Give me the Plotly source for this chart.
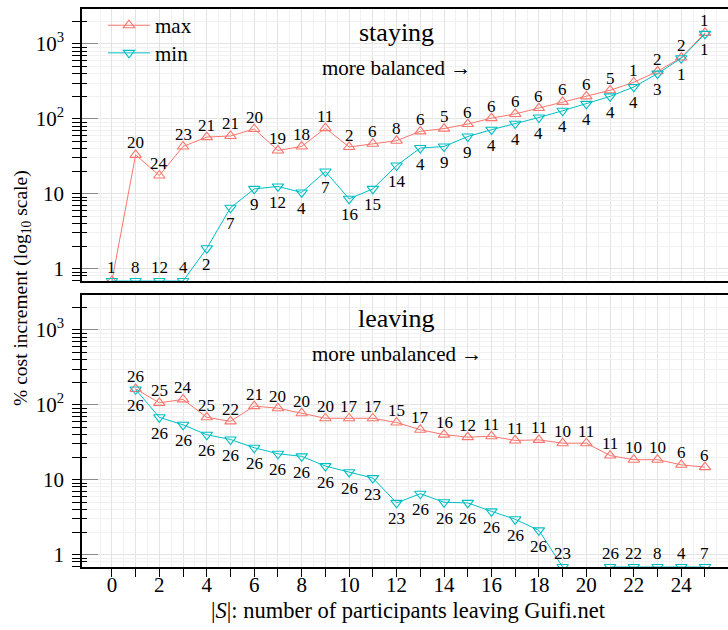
import numpy as np
import plotly.graph_objects as go

# ---------------- data ----------------
x_top = list(range(0, 26))
top_max = [0, 33, 17.5, 42.7, 57, 59, 73, 37.8, 42.7, 75, 42, 46.5, 51, 68, 74, 85,
           102, 116, 139, 168, 199, 240, 307, 430, 656, 1403]
top_max_n = [1, 20, 24, 23, 21, 21, 20, 19, 18, 11, 2, 6, 8, 6, 5, 6, 6, 6, 6, 6, 6, 5, 1, 2, 2, 1]
top_min = [0, 0, 0, 0, 1.87, 6.5, 11.6, 12.5, 10.4, 19.8, 8.55, 11.6, 23.8, 40.7, 42.7, 58,
           71.5, 86, 104, 128, 158, 199, 266, 401, 642, 1360]
top_min_n = [1, 8, 12, 4, 2, 7, 9, 12, 4, 7, 16, 15, 14, 4, 9, 9, 4, 4, 4, 4, 4, 4, 4, 3, 1, 1]

x_bot = list(range(1, 26))
bot_max = [163, 106, 118, 68, 60, 96, 90, 77, 66, 66, 66, 58, 46.4, 40, 37, 38, 33.4, 34,
           30.7, 30.7, 21, 18.5, 18.5, 15.8, 14.7]
bot_max_n = [26, 25, 24, 25, 22, 21, 20, 20, 20, 17, 17, 15, 17, 16, 12, 11, 11, 11, 10, 11,
             11, 10, 10, 6, 6]
bot_min = [160, 68, 54, 39.8, 34.4, 26.7, 22.2, 20.5, 15.2, 12.6, 10.5, 4.9, 6.5, 5.0, 4.9,
           3.78, 2.96, 2.11, 0, None, 0, 0, 0, 0, 0]
bot_min_n = [26, 26, 26, 26, 26, 26, 26, 26, 26, 26, 23, 23, 26, 26, 26, 26, 26, 26, 23, None,
             26, 22, 8, 4, 7]

panel_titles = ["staying", "leaving"]
panel_subtitles = ["more balanced \u2192", "more unbalanced \u2192"]
y_tickvals = [1, 10, 100, 1000]
y_ticktext = ["1", "10", "10<sup>2</sup>", "10<sup>3</sup>"]
x_label_ticks = list(range(0, 27, 2))
x_odd_ticks = list(range(1, 27, 2))
x_half_grid = [v + 0.5 for v in range(-2, 27)]

# ---------------- style ----------------
RED = "#F8766D"
CYAN = "#00BFC4"
FONT = "Liberation Serif"
YR = [-0.165, 3.465]
FLOOR = 10 ** YR[0]
XR = [-1.26, 25.97]
MAJ_GRID = "#E3E3E3"
MIN_GRID = "#F1F1F1"
minor_vals = [m * 10 ** d for d in range(-1, 4) for m in range(2, 10)]


def floor(vals):
    return [None if v is None else (FLOOR if v <= 0 else v) for v in vals]


def label_y(v):
    # log position for the annotation (floor points nudged inside the range)
    return np.log10(v) if v > 0 else YR[0] + 0.003


fig = go.Figure()

series = [
    ("x", "y", x_top, top_max, top_max_n, top_min, top_min_n, True),
    ("x2", "y2", x_bot, bot_max, bot_max_n, bot_min, bot_min_n, False),
]

annotations = []
for xa, ya, xs, mx, mxn, mn, mnn, leg in series:
    fig.add_trace(go.Scatter(
        x=xs, y=floor(mx), xaxis=xa, yaxis=ya, name="max", mode="lines+markers",
        line=dict(color=RED, width=1),
        marker=dict(symbol="triangle-up-open", size=10, color=RED, line=dict(width=1.1)),
        showlegend=leg, legend="legend", cliponaxis=True, connectgaps=False))
    fig.add_trace(go.Scatter(
        x=xs, y=floor(mn), xaxis=xa, yaxis=ya, name="min", mode="lines+markers",
        line=dict(color=CYAN, width=1),
        marker=dict(symbol="triangle-down-open", size=10, color=CYAN, line=dict(width=1.1)),
        showlegend=leg, legend="legend2", cliponaxis=True, connectgaps=False))
    for xi, v, n, v2 in zip(xs, mx, mxn, mn):
        if v is None or n is None:
            continue
        if v <= 0 and v2 is not None and v2 <= 0:
            continue  # shared label drawn with the min series
        annotations.append(dict(x=xi, y=label_y(v), xref=xa, yref=ya,
                                text=str(n), showarrow=False, yshift=12 if v > 0 else 13,
                                font=dict(family=FONT, size=17, color="black")))
    for xi, v, n in zip(xs, mn, mnn):
        if v is None or n is None:
            continue
        annotations.append(dict(x=xi, y=label_y(v), xref=xa, yref=ya,
                                text=str(n), showarrow=False, yshift=-16 if v > 0 else 13,
                                font=dict(family=FONT, size=17, color="black")))

# dummy traces so the overlay axes (inner log ticks, half-unit grid) are drawn
for xa, ya in [("x", "y3"), ("x2", "y4"), ("x3", "y"), ("x4", "y2")]:
    fig.add_trace(go.Scatter(x=[None], y=[None], xaxis=xa, yaxis=ya,
                             showlegend=False, hoverinfo="skip"))

for i, (t, s) in enumerate(zip(panel_titles, panel_subtitles)):
    xr = "x" if i == 0 else "x2"
    yr = "y domain" if i == 0 else "y2 domain"
    annotations.append(dict(x=12, y=0.912, xref=xr, yref=yr, text=t, showarrow=False,
                            xanchor="center", yanchor="middle",
                            font=dict(family=FONT, size=26, color="black")))
    annotations.append(dict(x=12, y=0.783, xref=xr, yref=yr, text=s, showarrow=False,
                            xanchor="center", yanchor="middle",
                            font=dict(family=FONT, size=21, color="black")))

annotations.append(dict(x=-0.0929, y=0.5, xref="paper", yref="paper", textangle=-90,
                        xanchor="center", yanchor="middle",
                        text="% cost increment (log<sub>10</sub> scale)", showarrow=False,
                        font=dict(family=FONT, size=19.5, color="black")))
annotations.append(dict(x=12.5, y=-0.0775, xref="x2", yref="paper",
                        xanchor="center", yanchor="middle",
                        text="|<i>S</i>|: number of participants leaving Guifi.net",
                        showarrow=False, font=dict(family=FONT, size=22.5, color="black")))


def xaxis(show_labels, anchor):
    return dict(
        anchor=anchor, domain=[0, 1], range=XR, showline=True, mirror=True,
        linecolor="black", linewidth=1.5,
        tickmode="array", tickvals=x_label_ticks,
        ticks="outside" if show_labels else "", ticklen=8, tickcolor="black", tickwidth=1,
        showticklabels=show_labels, tickfont=dict(family=FONT, size=21, color="black"),
        ticklabelstandoff=-10,
        showgrid=True, gridcolor=MAJ_GRID, gridwidth=1, zeroline=False,
        minor=dict(tickmode="array", tickvals=x_odd_ticks,
                   ticks="outside" if show_labels else "", ticklen=8, tickcolor="black",
                   tickwidth=1, showgrid=True, gridcolor=MAJ_GRID, gridwidth=1),
    )


def xover(over, anchor):
    return dict(
        overlaying=over, anchor=anchor, range=XR, showline=False, zeroline=False,
        showticklabels=False, ticks="", tickmode="array", tickvals=x_half_grid,
        showgrid=True, gridcolor=MIN_GRID, gridwidth=1,
    )


def yaxis(domain, anchor):
    return dict(
        anchor=anchor, domain=domain, type="log", range=YR, showline=True, mirror=False,
        linecolor="black", linewidth=1.5,
        tickmode="array", tickvals=y_tickvals, ticktext=y_ticktext,
        ticks="outside", ticklen=8, tickcolor="black", tickwidth=1,
        tickfont=dict(family=FONT, size=21, color="black"), ticklabelstandoff=4,
        showgrid=True, gridcolor=MAJ_GRID, gridwidth=1, zeroline=False,
        minor=dict(tickmode="array", tickvals=minor_vals, ticks="outside", ticklen=8,
                   tickcolor="black", tickwidth=1, showgrid=True, gridcolor=MIN_GRID, gridwidth=1),
    )


def yover(over, anchor):
    return dict(
        overlaying=over, anchor=anchor, side="left", type="log", range=YR,
        showline=False, showgrid=False, zeroline=False, showticklabels=False,
        tickmode="array", tickvals=y_tickvals, ticks="inside", ticklen=16,
        tickcolor="#8a8a8a", tickwidth=1,
        minor=dict(tickmode="array", tickvals=minor_vals, ticks="inside", ticklen=5,
                   tickcolor="black", tickwidth=1, showgrid=False),
    )


TOP_DOM = [0.5125, 1.0]
BOT_DOM = [0.0, 0.4875]

legend_common = dict(x=0.0325, xanchor="left", yanchor="top", bgcolor="rgba(0,0,0,0)",
                     itemwidth=42, font=dict(family=FONT, size=21, color="black"))

fig.update_layout(
    width=728, height=630,
    margin=dict(l=82, r=0, t=9, b=63),
    paper_bgcolor="white", plot_bgcolor="white",
    font=dict(family=FONT, color="black"),
    xaxis=xaxis(False, "y"),
    xaxis2=xaxis(True, "y2"),
    xaxis3=xover("x", "y"),
    xaxis4=xover("x2", "y2"),
    yaxis=yaxis(TOP_DOM, "x"),
    yaxis2=yaxis(BOT_DOM, "x2"),
    yaxis3=yover("y", "x"),
    yaxis4=yover("y2", "x2"),
    showlegend=True,
    legend=dict(y=1.007, **legend_common),
    legend2=dict(y=0.9575, **legend_common),
    annotations=annotations,
)

fig.write_html("out.html", config={"displayModeBar": False},
               post_script="document.body.style.margin='0';")
